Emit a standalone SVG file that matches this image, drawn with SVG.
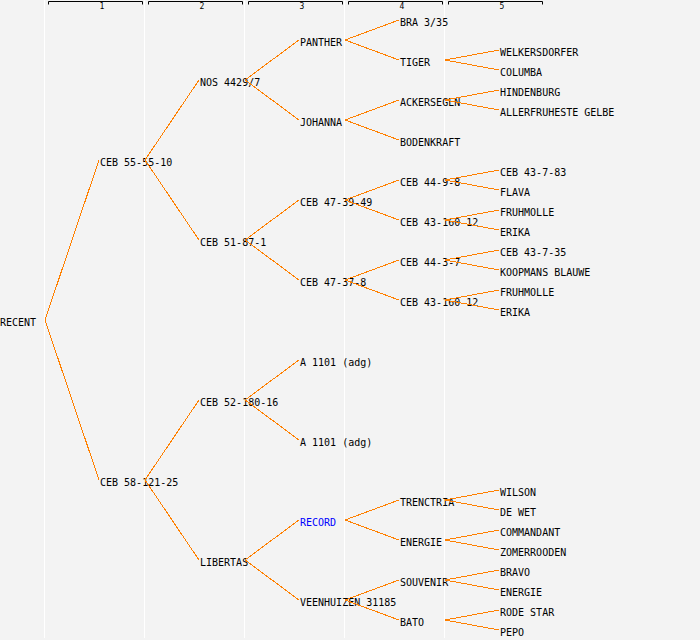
<svg xmlns="http://www.w3.org/2000/svg" width="700" height="640" viewBox="0 0 700 640">
<style>
.bg{fill:#f3f3f3}
.grid{stroke:#ffffff;stroke-width:1}
.br{fill:none;stroke:#000000;stroke-width:1}
.num{font-family:"DejaVu Sans Mono","Liberation Mono",monospace;font-size:8px;fill:#000;text-anchor:middle}
.t{font-family:"DejaVu Sans Mono","Liberation Mono",monospace;font-size:10px;fill:#000}
.link{fill:#0000ff}
.c{fill:none;stroke:#ff8000;stroke-width:1;shape-rendering:crispEdges}
</style>
<rect class="bg" x="0" y="0" width="700" height="640"/>
<g id="grid">
<line class="grid" x1="44.5" y1="0" x2="44.5" y2="638"/>
<line class="grid" x1="144.5" y1="0" x2="144.5" y2="638"/>
<line class="grid" x1="244.5" y1="0" x2="244.5" y2="638"/>
<line class="grid" x1="344.5" y1="0" x2="344.5" y2="638"/>
<line class="grid" x1="444.5" y1="0" x2="444.5" y2="638"/>
</g>
<g id="ruler">
<path class="br" d="M48.5,4.5V1.5H142.5V4.5"/><text class="num" x="102" y="9">1</text>
<path class="br" d="M148.5,4.5V1.5H242.5V4.5"/><text class="num" x="202" y="9">2</text>
<path class="br" d="M248.5,4.5V1.5H342.5V4.5"/><text class="num" x="302" y="9">3</text>
<path class="br" d="M348.5,4.5V1.5H442.5V4.5"/><text class="num" x="402" y="9">4</text>
<path class="br" d="M448.5,4.5V1.5H542.5V4.5"/><text class="num" x="502" y="9">5</text>
</g>
<g id="n-recent"><text class="t" x="0" y="326">RECENT</text></g>
<g id="n-ceb55"><text class="t" x="100" y="166">CEB 55-55-10</text></g>
<g id="n-ceb58"><text class="t" x="100" y="486">CEB 58-121-25</text></g>
<g id="n-nos"><text class="t" x="200" y="86">NOS 4429/7</text></g>
<g id="n-ceb51"><text class="t" x="200" y="246">CEB 51-87-1</text></g>
<g id="n-ceb52"><text class="t" x="200" y="406">CEB 52-180-16</text></g>
<g id="n-libertas"><text class="t" x="200" y="566">LIBERTAS</text></g>
<g id="n-panther"><text class="t" x="300" y="46">PANTHER</text></g>
<g id="n-johanna"><text class="t" x="300" y="126">JOHANNA</text></g>
<g id="n-ceb4739"><text class="t" x="300" y="206">CEB 47-39-49</text></g>
<g id="n-ceb4737"><text class="t" x="300" y="286">CEB 47-37-8</text></g>
<g id="n-a1101a"><text class="t" x="300" y="366">A 1101 (adg)</text></g>
<g id="n-a1101b"><text class="t" x="300" y="446">A 1101 (adg)</text></g>
<g id="n-record"><text class="t link" x="300" y="526">RECORD</text></g>
<g id="n-veenhuizen"><text class="t" x="300" y="606">VEENHUIZEN 31185</text></g>
<g id="n-bra"><text class="t" x="400" y="26">BRA 3/35</text></g>
<g id="n-tiger"><text class="t" x="400" y="66">TIGER</text></g>
<g id="n-ackersegen"><text class="t" x="400" y="106">ACKERSEGEN</text></g>
<g id="n-bodenkraft"><text class="t" x="400" y="146">BODENKRAFT</text></g>
<g id="n-ceb449"><text class="t" x="400" y="186">CEB 44-9-8</text></g>
<g id="n-ceb43160a"><text class="t" x="400" y="226">CEB 43-160-12</text></g>
<g id="n-ceb443"><text class="t" x="400" y="266">CEB 44-3-7</text></g>
<g id="n-ceb43160b"><text class="t" x="400" y="306">CEB 43-160-12</text></g>
<g id="n-trenctria"><text class="t" x="400" y="506">TRENCTRIA</text></g>
<g id="n-energie4"><text class="t" x="400" y="546">ENERGIE</text></g>
<g id="n-souvenir"><text class="t" x="400" y="586">SOUVENIR</text></g>
<g id="n-bato"><text class="t" x="400" y="626">BATO</text></g>
<g id="n-welkersdorfer"><text class="t" x="500" y="56">WELKERSDORFER</text></g>
<g id="n-columba"><text class="t" x="500" y="76">COLUMBA</text></g>
<g id="n-hindenburg"><text class="t" x="500" y="96">HINDENBURG</text></g>
<g id="n-allerfruheste"><text class="t" x="500" y="116">ALLERFRUHESTE GELBE</text></g>
<g id="n-ceb43783"><text class="t" x="500" y="176">CEB 43-7-83</text></g>
<g id="n-flava"><text class="t" x="500" y="196">FLAVA</text></g>
<g id="n-fruhmolle1"><text class="t" x="500" y="216">FRUHMOLLE</text></g>
<g id="n-erika1"><text class="t" x="500" y="236">ERIKA</text></g>
<g id="n-ceb43735"><text class="t" x="500" y="256">CEB 43-7-35</text></g>
<g id="n-koopmans"><text class="t" x="500" y="276">KOOPMANS BLAUWE</text></g>
<g id="n-fruhmolle2"><text class="t" x="500" y="296">FRUHMOLLE</text></g>
<g id="n-erika2"><text class="t" x="500" y="316">ERIKA</text></g>
<g id="n-wilson"><text class="t" x="500" y="496">WILSON</text></g>
<g id="n-dewet"><text class="t" x="500" y="516">DE WET</text></g>
<g id="n-commandant"><text class="t" x="500" y="536">COMMANDANT</text></g>
<g id="n-zomerrooden"><text class="t" x="500" y="556">ZOMERROODEN</text></g>
<g id="n-bravo"><text class="t" x="500" y="576">BRAVO</text></g>
<g id="n-energie5"><text class="t" x="500" y="596">ENERGIE</text></g>
<g id="n-rodestar"><text class="t" x="500" y="616">RODE STAR</text></g>
<g id="n-pepo"><text class="t" x="500" y="636">PEPO</text></g>
<g id="connectors">
<path class="c" d="M45,320L99,160M45,320L99,480"/>
<path class="c" d="M145,160L199,80M145,160L199,240M145,480L199,400M145,480L199,560"/>
<path class="c" d="M245,80L299,40M245,80L299,120M245,240L299,200M245,240L299,280M245,400L299,360M245,400L299,440M245,560L299,520M245,560L299,600"/>
<path class="c" d="M345,40L399,20M345,40L399,60M345,120L399,100M345,120L399,140M345,200L399,180M345,200L399,220M345,280L399,260M345,280L399,300M345,520L399,500M345,520L399,540M345,600L399,580M345,600L399,620"/>
<path class="c" d="M445,60L499,50M445,60L499,70M445,100L499,90M445,100L499,110M445,180L499,170M445,180L499,190M445,220L499,210M445,220L499,230M445,260L499,250M445,260L499,270M445,300L499,290M445,300L499,310M445,500L499,490M445,500L499,510M445,540L499,530M445,540L499,550M445,580L499,570M445,580L499,590M445,620L499,610M445,620L499,630"/>
</g>
</svg>
